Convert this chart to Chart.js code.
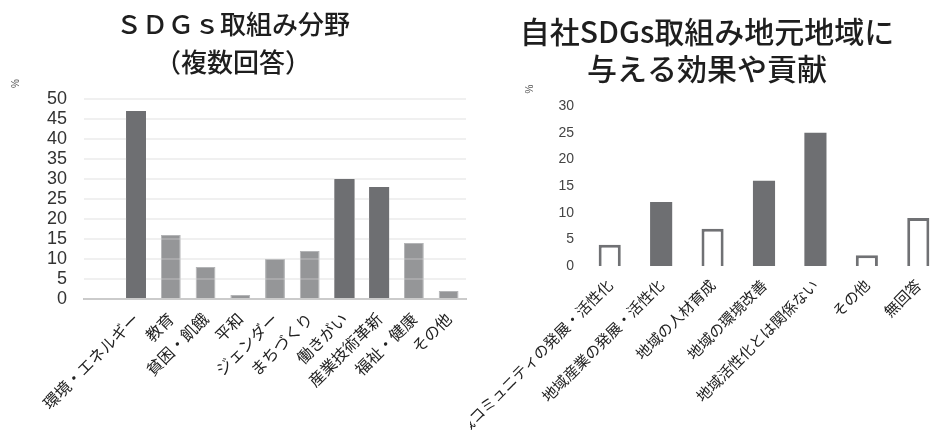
<!DOCTYPE html>
<html lang="ja">
<head>
<meta charset="utf-8">
<script src="https://cdn.jsdelivr.net/npm/chart.js@4.4.1/dist/chart.umd.min.js"></script>
<style>
  html, body { margin: 0; padding: 0; background: #fff; overflow: hidden; width: 935px; height: 441px; }
  #fieldBox { position: absolute; left: 0; top: 0; width: 470px; height: 441px; }
  #effectBox { position: absolute; left: 470px; top: 0; width: 480px; height: 441px; }
</style>
</head>
<body>
<div id="fieldBox"><canvas id="fieldChart"></canvas></div>
<div id="effectBox"><canvas id="effectChart"></canvas></div>
<script>
// SDGs取組み分野（複数回答）
const fieldLabels = ['', '環境・エネルギー', '教育', '貧困・飢餓', '平和', 'ジェンダー', 'まちづくり', '働きがい', '産業技術革新', '福祉・健康', 'その他'];
const fieldValues = [null, 47, 16, 8, 1, 10, 12, 30, 28, 14, 2];
const fieldMajor  = [false, true, false, false, false, false, false, true, true, false, false];
const fieldTickTop = 50;

// 自社SDGs取組み 地元地域に与える効果や貢献
const effectLabels = ['地域コミュニティの発展・活性化', '地域産業の発展・活性化', '地域の人材育成', '地域の環境改善', '地域活性化とは関係ない', 'その他', '無回答'];
const effectValues = [4, 12, 7, 16, 25, 2, 9];
const effectFilled = [false, true, false, true, true, false, false];
const effectTickTop = 30;

const DARK = '#6e6f72';
const LIGHT = '#959698';
const LIGHT_EDGE = '#b4b5b7';
const JP = '"Noto Sans CJK JP", "Noto Sans", sans-serif';
const NUM = '"Liberation Sans", Arial, sans-serif';

Chart.defaults.devicePixelRatio = 1;
Chart.defaults.animation = false;

// keep only the round ticks below the headroom
const trimTicks = top => scale => { scale.ticks = scale.ticks.filter(t => t.value <= top); };

// the highlighted series sits above the grid lines
const majorOnTop = {
  id: 'majorOnTop',
  afterDraw(chart) {
    const meta = chart.getDatasetMeta(0);
    if (meta.visible) meta.controller.draw();
  }
};

new Chart(document.getElementById('fieldChart'), {
  type: 'bar',
  data: {
    labels: fieldLabels,
    datasets: [
      {
        data: fieldValues.map((v, i) => fieldMajor[i] ? v : null),
        backgroundColor: DARK,
        borderWidth: 0,
        grouped: false,
        barPercentage: 0.57,
        categoryPercentage: 1
      },
      {
        data: fieldValues.map((v, i) => fieldMajor[i] ? null : v),
        backgroundColor: LIGHT,
        borderColor: LIGHT_EDGE,
        borderWidth: 1,
        grouped: false,
        barPercentage: 0.57,
        categoryPercentage: 1
      }
    ]
  },
  plugins: [majorOnTop],
  options: {
    responsive: true,
    maintainAspectRatio: false,
    layout: { padding: { left: 0, right: 4, top: 0, bottom: 0 } },
    plugins: {
      legend: { display: false },
      tooltip: { enabled: false },
      title: {
        display: true,
        text: ['ＳＤＧｓ取組み分野', '（複数回答）'],
        color: '#1e1e1e',
        font: { family: JP, size: 26, weight: 500, lineHeight: 38 / 26 },
        padding: { top: 5, bottom: -2 }
      }
    },
    scales: {
      x: {
        grid: { display: false, drawTicks: false },
        border: { display: true, color: '#c8c8c8', width: 2 },
        ticks: {
          color: '#222',
          font: { family: JP, size: 16 },
          maxRotation: 45, minRotation: 45, autoSkip: false, padding: 10
        },
        afterFit(s) { s.height = 142; s.paddingLeft = 0; s.paddingRight = 0; }
      },
      y: {
        min: 0, max: 55,
        grid: { color: 'rgba(210,210,210,0.33)', lineWidth: 2, drawTicks: false, z: 1 },
        border: { display: false },
        ticks: { stepSize: 5, autoSkip: false, color: '#333', font: { family: NUM, size: 18 }, padding: 17 },
        afterBuildTicks: trimTicks(fieldTickTop),
        title: { display: true, text: '%', align: 'end', color: '#555', font: { family: NUM, size: 10 }, padding: { top: 10, bottom: 0 } },
        afterFit(s) { s.width = 84; s.paddingTop = 0; s.paddingBottom = 0; }
      }
    }
  }
});

new Chart(document.getElementById('effectChart'), {
  type: 'bar',
  data: {
    labels: effectLabels,
    datasets: [{
      data: effectValues,
      backgroundColor: effectFilled.map(f => f ? DARK : '#ffffff'),
      borderColor: '#707174',
      borderWidth: effectFilled.map(f => f ? 0 : 3),
      barPercentage: 0.43,
      categoryPercentage: 1
    }]
  },
  options: {
    responsive: true,
    maintainAspectRatio: false,
    layout: { padding: { left: 0, right: 6, top: 0, bottom: 0 } },
    plugins: {
      legend: { display: false },
      tooltip: { enabled: false },
      title: {
        display: true,
        text: ['自社SDGs取組み地元地域に', '与える効果や貢献'],
        color: '#1e1e1e',
        font: { family: JP, size: 30, weight: 500, lineHeight: 37 / 30 },
        padding: { top: 13.5, bottom: -2.8 }
      }
    },
    scales: {
      x: {
        grid: { display: false, drawTicks: false },
        border: { display: false },
        ticks: {
          color: '#222',
          font: { family: JP, size: 15 },
          maxRotation: 45, minRotation: 45, autoSkip: false, padding: 10
        },
        afterFit(s) { s.height = 175; s.paddingLeft = 0; s.paddingRight = 0; }
      },
      y: {
        min: 0, max: 34,
        grid: { display: false, drawTicks: false },
        border: { display: false },
        ticks: { stepSize: 5, autoSkip: false, color: '#444', font: { family: NUM, size: 14 }, padding: 10 },
        afterBuildTicks: trimTicks(effectTickTop),
        title: { display: true, text: '%', align: 'end', color: '#555', font: { family: NUM, size: 10 }, padding: { top: 54, bottom: 0 } },
        afterFit(s) { s.width = 114; s.paddingTop = 0; s.paddingBottom = 0; }
      }
    }
  }
});
</script>
</body>
</html>
